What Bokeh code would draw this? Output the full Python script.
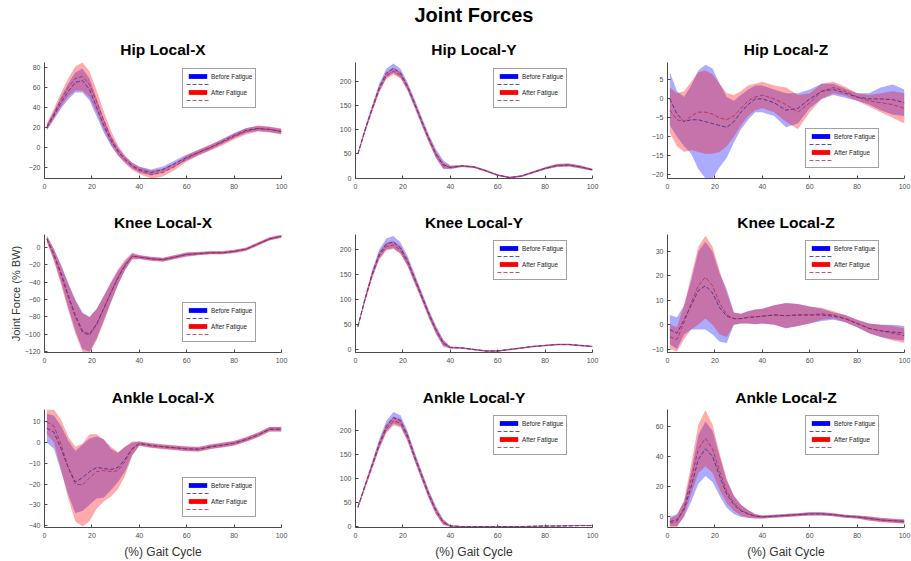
import numpy as np
from bokeh.plotting import figure
from bokeh.models import ColumnDataSource, Range1d, FixedTicker, Legend, LegendItem
from bokeh.layouts import gridplot, column
from bokeh.embed import file_html
from bokeh.resources import INLINE

# ---------------- data ----------------
GAIT = [1, 4, 7, 10, 13, 16, 19, 22, 25, 28, 31, 34, 37, 40, 45, 50, 55, 60, 65, 70, 75, 80, 85, 90, 95, 100]

HIP_X_BEFORE_MEAN = [20, 32, 45, 56, 65, 67, 58, 40, 22, 7, -4, -12, -18, -22, -25, -22, -16, -10, -5, 0, 6, 12, 17, 19, 18, 16]
HIP_X_BEFORE_SD = [3, 4, 6, 8, 10, 12, 11, 9, 7, 5, 4, 3, 3, 3, 3, 3, 3, 3, 2.5, 2.5, 2.5, 2.5, 2.5, 2.5, 2.5, 2.5]
HIP_X_AFTER_MEAN = [21, 34, 48, 60, 69, 71, 63, 46, 27, 10, -3, -12, -19, -23, -27, -25, -19, -11, -5, 0, 5, 11, 16, 19, 18, 16]
HIP_X_AFTER_SD = [3, 5, 7, 9, 12, 14, 13, 11, 9, 7, 5, 4, 3.5, 3.5, 4, 4, 3.5, 3, 3, 3, 3, 3, 3, 3, 3, 3]

HIP_Y_BEFORE_MEAN = [50, 100, 145, 188, 218, 228, 218, 190, 155, 118, 82, 50, 28, 22, 25, 23, 15, 6, 1, 4, 12, 20, 26, 27, 23, 17]
HIP_Y_BEFORE_SD = [3, 5, 6, 8, 9, 10, 9, 8, 8, 8, 8, 9, 9, 4, 2, 2, 2, 2, 1.5, 2, 2, 2.5, 3, 3, 3, 2]
HIP_Y_AFTER_MEAN = [50, 98, 142, 184, 212, 222, 214, 188, 152, 115, 80, 48, 26, 22, 25, 23, 15, 6, 1, 4, 12, 20, 26, 27, 23, 17]
HIP_Y_AFTER_SD = [3, 5, 6, 7, 7, 7, 7, 7, 7, 7, 7, 7, 7, 3, 2, 2, 2, 2, 1.5, 2, 2, 2.5, 3, 3, 3, 2]

HIP_Z_BEFORE_MEAN = [0, -4, -6, -5.5, -5.5, -6, -6.5, -7, -7.5, -6, -3.5, -1.5, 0, 0, -1, -3, -2.5, 0, 2, 2.5, 1.5, 0.5, 0, 0, -0.2, -1]
HIP_Z_BEFORE_SD = [7, 6, 6.5, 9, 13, 15, 14.5, 11, 8, 5.5, 4.5, 4, 3.5, 3.5, 3.5, 4.5, 4, 2.5, 2, 1.5, 1.2, 1, 1.5, 3, 4, 3.5]
HIP_Z_AFTER_MEAN = [-3, -5.5, -6, -4.5, -3.5, -3.5, -4, -5, -5.5, -4.5, -2.5, -0.5, 0.5, 1, 0, -1.5, -3.5, -1, 2, 3, 2, 0.5, -0.5, -1, -1.5, -2.5]
HIP_Z_AFTER_SD = [6, 7, 8, 9, 10.5, 11, 10.5, 9, 7, 5.5, 4.5, 4, 3.5, 3.5, 3.5, 4.5, 4.5, 2.5, 2, 1.5, 1.2, 1, 1.5, 2.5, 3.5, 4]

KNEE_X_BEFORE_MEAN = [10, -8, -30, -55, -78, -96, -100, -88, -70, -52, -35, -21, -10, -11, -13, -14, -11, -8, -7, -6, -6, -4.5, -2, 4, 10, 13]
KNEE_X_BEFORE_SD = [3, 6, 10, 14, 18, 21, 20, 17, 14, 11, 8, 5, 3, 2, 2, 2, 2, 2, 1.5, 1.5, 1.5, 1.5, 1.5, 1.5, 1.5, 1.5]
KNEE_X_AFTER_MEAN = [10, -9, -32, -57, -80, -98, -101, -89, -71, -52, -34, -20, -10, -11, -13, -14, -11, -8, -7, -6, -6, -4.5, -2, 4, 10, 13]
KNEE_X_AFTER_SD = [4, 7, 11, 15, 19, 22, 21, 18, 15, 12, 9, 6, 4, 2.5, 2.5, 2.5, 2.5, 2.5, 2, 2, 2, 2, 2, 2, 2, 2]

KNEE_Y_BEFORE_MEAN = [45, 100, 150, 190, 210, 214, 202, 176, 141, 106, 70, 38, 12, 3, 2, -1, -4, -4, -1, 2, 5, 7, 9, 9, 7, 5]
KNEE_Y_BEFORE_SD = [3, 5, 7, 9, 11, 12, 11, 10, 9, 8, 8, 8, 7, 2, 1.5, 1.5, 1.5, 1.5, 1.5, 1.5, 1.5, 1.5, 1.5, 1.5, 1.5, 1.5]
KNEE_Y_AFTER_MEAN = [45, 98, 147, 186, 205, 208, 198, 173, 138, 103, 68, 37, 12, 3, 2, -1, -4, -4, -1, 2, 5, 7, 9, 9, 7, 5]
KNEE_Y_AFTER_SD = [3, 5, 7, 8, 8, 8, 8, 8, 8, 7, 7, 7, 6, 2, 1.5, 1.5, 1.5, 1.5, 1.5, 1.5, 1.5, 1.5, 1.5, 1.5, 1.5, 1.5]

KNEE_Z_BEFORE_MEAN = [-2, -3.5, 2, 8, 14, 16, 13, 7, 3.5, 2.5, 2.5, 3, 3.2, 3.5, 4, 3.7, 4, 4, 4, 3.5, 2.5, 0.5, -1.5, -2.5, -3, -3.5]
KNEE_Z_BEFORE_SD = [6, 6.5, 6, 10, 16, 18, 17, 14, 11, 2.5, 2, 2.5, 3, 3, 4, 5.2, 4.5, 3.5, 2.5, 1.5, 1.5, 1.5, 2, 2.5, 3, 3]
KNEE_Z_AFTER_MEAN = [-5, -6, 1, 9, 16, 19.5, 16, 9, 4, 2.5, 2.5, 3, 3.2, 3.5, 4, 3.7, 4, 4, 4.5, 4, 2.5, 0.5, -1.5, -2.5, -3.5, -4.5]
KNEE_Z_AFTER_SD = [5, 5, 7, 11, 16, 17, 16, 13, 9, 2.5, 2, 2.5, 3, 3, 4, 5.2, 4.5, 3.5, 2.5, 1.5, 1.5, 1.5, 2, 2.5, 3, 3]

ANKLE_X_BEFORE_MEAN = [7, 5, -3, -12, -19, -17, -14, -12, -12.5, -13, -12, -8, -3, -0.5, -1.4, -2, -2.5, -3, -3.2, -2, -1.2, -0.3, 1.5, 3.7, 6.5, 6.5]
ANKLE_X_BEFORE_SD = [7, 8, 11, 13, 15, 16, 16, 15, 14, 10, 7, 6, 3, 1, 1, 1, 1, 1, 1, 1, 1, 1, 1, 1, 1, 1]
ANKLE_X_AFTER_MEAN = [10, 8, -1, -12, -20, -20.5, -17, -14, -13.5, -14, -13.5, -9, -3, -0.5, -1.4, -2, -2.5, -3, -3.2, -2, -1.2, -0.3, 1.5, 3.7, 6.5, 6.5]
ANKLE_X_AFTER_SD = [6, 8, 12, 15, 18, 20, 21, 18, 15, 12, 9, 7, 3.5, 1, 1.2, 1.2, 1.2, 1.2, 1.2, 1.2, 1.2, 1.2, 1.2, 1.2, 1.2, 1.2]

ANKLE_Y_BEFORE_MEAN = [40, 85, 128, 172, 208, 226, 220, 188, 145, 105, 66, 33, 9, 1, 0, 0, 0, 0, 0, 0, 0.5, 1, 1, 1.5, 2, 2]
ANKLE_Y_BEFORE_SD = [3, 5, 7, 9, 11, 12, 11, 10, 9, 9, 9, 8, 6, 1.5, 1, 1, 1, 1, 1, 1, 1, 1, 1, 1, 1, 1]
ANKLE_Y_AFTER_MEAN = [40, 83, 125, 168, 203, 219, 215, 185, 143, 104, 65, 32, 9, 1, 0, 0, 0, 0, 0, 0, 0.5, 1, 1, 1.5, 2, 2]
ANKLE_Y_AFTER_SD = [3, 5, 7, 8, 9, 9, 9, 9, 8, 8, 8, 7, 5, 1.5, 1, 1, 1, 1, 1, 1, 1, 1, 1, 1, 1, 1]

ANKLE_Z_BEFORE_MEAN = [-3, -2, 5, 20, 38, 45, 40, 27, 15, 8, 4, 2, 0.5, 0, 0.5, 1, 1.5, 2, 2, 1.5, 0.5, 0, -1, -2, -2.5, -3]
ANKLE_Z_BEFORE_SD = [3, 4, 5, 10, 16, 18, 17, 13, 9, 6, 4, 2.5, 1.5, 1, 1, 1, 1, 1, 1, 1, 1, 1, 1.2, 1.2, 1.2, 1.2]
ANKLE_Z_AFTER_MEAN = [-4, -3, 6, 25, 45, 52, 45, 30, 17, 9, 4.5, 2, 0.5, 0, 0.5, 1, 1.5, 2, 2, 1.5, 0.5, 0, -1, -2, -2.5, -3]
ANKLE_Z_AFTER_SD = [3, 4, 5, 10, 16, 18.5, 16, 12, 8, 5, 3.5, 2.5, 1.5, 1, 1, 1, 1, 1, 1, 1, 1, 1, 1.5, 1.5, 1.5, 1.5]

TITLES = ["Hip Local-X", "Hip Local-Y", "Hip Local-Z",
          "Knee Local-X", "Knee Local-Y", "Knee Local-Z",
          "Ankle Local-X", "Ankle Local-Y", "Ankle Local-Z"]
X_TICKS = [0, 20, 40, 60, 80, 100]
Y_TICKS = [[-20, 0, 20, 40, 60, 80], [0, 50, 100, 150, 200], [-20, -15, -10, -5, 0, 5],
           [-120, -100, -80, -60, -40, -20, 0], [0, 50, 100, 150, 200], [-10, 0, 10, 20, 30],
           [-40, -30, -20, -10, 0, 10], [0, 50, 100, 150, 200], [0, 20, 40, 60]]
Y_LIMITS = [(-31, 85), (-1, 240), (-21, 9.6),
            (-121, 15), (-7, 229), (-11.4, 37),
            (-41, 16), (-2, 243), (-7, 71)]
LEGEND_LABELS = ["Before Fatigue", "After Fatigue"]
SERIES = [
    (HIP_X_BEFORE_MEAN, HIP_X_BEFORE_SD, HIP_X_AFTER_MEAN, HIP_X_AFTER_SD),
    (HIP_Y_BEFORE_MEAN, HIP_Y_BEFORE_SD, HIP_Y_AFTER_MEAN, HIP_Y_AFTER_SD),
    (HIP_Z_BEFORE_MEAN, HIP_Z_BEFORE_SD, HIP_Z_AFTER_MEAN, HIP_Z_AFTER_SD),
    (KNEE_X_BEFORE_MEAN, KNEE_X_BEFORE_SD, KNEE_X_AFTER_MEAN, KNEE_X_AFTER_SD),
    (KNEE_Y_BEFORE_MEAN, KNEE_Y_BEFORE_SD, KNEE_Y_AFTER_MEAN, KNEE_Y_AFTER_SD),
    (KNEE_Z_BEFORE_MEAN, KNEE_Z_BEFORE_SD, KNEE_Z_AFTER_MEAN, KNEE_Z_AFTER_SD),
    (ANKLE_X_BEFORE_MEAN, ANKLE_X_BEFORE_SD, ANKLE_X_AFTER_MEAN, ANKLE_X_AFTER_SD),
    (ANKLE_Y_BEFORE_MEAN, ANKLE_Y_BEFORE_SD, ANKLE_Y_AFTER_MEAN, ANKLE_Y_AFTER_SD),
    (ANKLE_Z_BEFORE_MEAN, ANKLE_Z_BEFORE_SD, ANKLE_Z_AFTER_MEAN, ANKLE_Z_AFTER_SD),
]
LEGEND_CORNER = ["top", "top", "bottom", "bottom", "top", "top", "bottom", "top", "top"]

# ---------------- layout / style ----------------
FONT = "Liberation Sans"
FRAME_W = 237
COL_L = [44, 35, 35]
COL_R = [39, 40, 7]
HEADER_H = 34
ROW_T = [28, 26, 26]
ROW_FH = [116, 118, 118]
ROW_B = [30, 31, 34]
AXIS_COLOR = "#4a4a4a"
TEXT_COLOR = "#4d4d4d"
BLUE = "#0000ff"
RED = "#ff0000"
LEG_W, LEG_H = 78, 38


def make_panel(i):
    r, c = divmod(i, 3)
    bm, bs, am, asd = [np.array(a, dtype=float) for a in SERIES[i]]
    x = np.array(GAIT, dtype=float)
    src = ColumnDataSource(dict(x=x, bm=bm, bl=bm - bs, bu=bm + bs,
                                am=am, al=am - asd, au=am + asd))
    fh = ROW_FH[r]
    p = figure(width=COL_L[c] + FRAME_W + COL_R[c], height=ROW_T[r] + fh + ROW_B[r],
               x_range=Range1d(0, 100), y_range=Range1d(*Y_LIMITS[i]),
               output_backend="svg", toolbar_location=None,
               min_border_left=COL_L[c], min_border_right=COL_R[c],
               min_border_top=ROW_T[r], min_border_bottom=ROW_B[r])
    p.title.text = TITLES[i]
    p.title.align = "center"
    p.title.text_font = FONT
    p.title.text_font_size = "15.5px"
    p.title.text_font_style = "bold"
    p.title.text_color = "#000000"
    p.title.standoff = 9 if r == 0 else 7
    p.grid.visible = False
    p.outline_line_color = None
    p.background_fill_color = "white"
    p.border_fill_color = "white"

    p.varea(x="x", y1="bl", y2="bu", source=src, fill_color=BLUE, fill_alpha=0.33)
    p.varea(x="x", y1="al", y2="au", source=src, fill_color=RED, fill_alpha=0.33)
    bline = p.line(x="x", y="bm", source=src, line_color="#35288a", line_width=0.8, line_dash="4 2")
    aline = p.line(x="x", y="am", source=src, line_color="#b02a4c", line_width=0.8, line_dash="4 2")
    # zero-height areas along the means: invisible on the plot, solid swatches in the legend
    bsw = p.varea(x="x", y1="bm", y2="bm", source=src, fill_color=BLUE, fill_alpha=1)
    asw = p.varea(x="x", y1="am", y2="am", source=src, fill_color=RED, fill_alpha=1)

    p.xaxis.ticker = FixedTicker(ticks=X_TICKS)
    p.yaxis.ticker = FixedTicker(ticks=Y_TICKS[i])
    for ax in (p.xaxis[0], p.yaxis[0]):
        ax.axis_line_color = AXIS_COLOR
        ax.major_tick_line_color = AXIS_COLOR
        ax.major_tick_in = 3
        ax.major_tick_out = 0
        ax.minor_tick_line_color = None
        ax.major_label_text_font = FONT
        ax.major_label_text_font_size = "7px"
        ax.major_label_text_color = TEXT_COLOR
    p.xaxis.major_label_standoff = 5
    p.yaxis.major_label_standoff = 4

    if i == 3:
        p.yaxis.axis_label = "Joint Force (% BW)"
        p.yaxis.axis_label_text_font = FONT
        p.yaxis.axis_label_text_font_size = "11px"
        p.yaxis.axis_label_text_font_style = "normal"
        p.yaxis.axis_label_text_color = "#333333"
        p.yaxis.axis_label_standoff = 0
    if r == 2:
        p.xaxis.axis_label = "(%) Gait Cycle"
        p.xaxis.axis_label_text_font = FONT
        p.xaxis.axis_label_text_font_size = "12px"
        p.xaxis.axis_label_text_font_style = "normal"
        p.xaxis.axis_label_text_color = "#333333"
        p.xaxis.axis_label_standoff = 4

    lx = FRAME_W - 21 - LEG_W
    ly = fh - 8 - LEG_H if LEGEND_CORNER[i] == "top" else 10
    leg = Legend(items=[LegendItem(label=LEGEND_LABELS[0], renderers=[bsw]),
                        LegendItem(label=" ", renderers=[bline]),
                        LegendItem(label=LEGEND_LABELS[1], renderers=[asw]),
                        LegendItem(label=" ", renderers=[aline])],
                 location=(lx, ly), orientation="vertical",
                 glyph_width=23, glyph_height=6, label_height=8, label_standoff=2,
                 spacing=0, padding=3, margin=0,
                 label_text_font=FONT, label_text_font_size="6.3px", label_text_color="#222222",
                 border_line_color="#444444", border_line_width=1,
                 background_fill_color="white", background_fill_alpha=1)
    p.add_layout(leg)
    return p


panels = [make_panel(i) for i in range(9)]
grid = gridplot([panels[0:3], panels[3:6], panels[6:9]], toolbar_location=None)

total_w = sum(COL_L) + sum(COL_R) + 3 * FRAME_W
header = figure(width=total_w, height=HEADER_H, output_backend="svg", toolbar_location=None,
                min_border_left=0, min_border_right=0, min_border_top=0, min_border_bottom=0,
                x_range=Range1d(0, 1), y_range=Range1d(0, 1))
header.axis.visible = False
header.grid.visible = False
header.outline_line_color = None
header.title.text = "Joint Forces"
header.title.align = "left"
header.title.offset = 414
header.title.text_font = FONT
header.title.text_font_size = "20px"
header.title.text_font_style = "bold"
header.title.text_color = "#000000"
header.title.standoff = 2

layout = column(header, grid)
open("out.html", "w").write(file_html(layout, INLINE))
